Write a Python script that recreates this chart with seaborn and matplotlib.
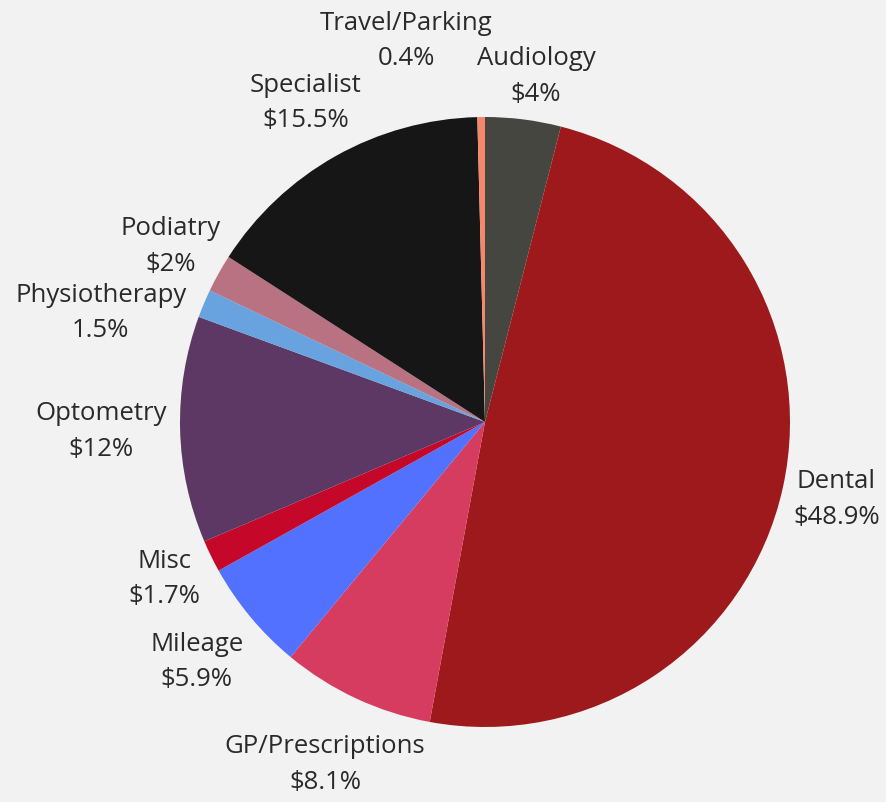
import numpy as np
import seaborn as sns
import matplotlib.pyplot as plt

# Data
categories = ["Audiology", "Dental", "GP/Prescriptions", "Mileage", "Misc",
              "Optometry", "Physiotherapy", "Podiatry", "Specialist", "Travel/Parking"]
shares = [4, 48.9, 8.1, 5.9, 1.7, 12, 1.5, 2, 15.5, 0.4]
value_labels = ["$4%", "$48.9%", "$8.1%", "$5.9%", "$1.7%",
                "$12%", "1.5%", "$2%", "$15.5%", "0.4%"]
colors = ["#464640", "#9e191b", "#d63c5f", "#5271ff", "#c5082a",
          "#5d3865", "#68a3df", "#b87282", "#161616", "#f7876b"]

# label distance from centre (fraction of radius) and angle nudge in degrees
label_r = [1.145, 1.18, 1.24, 1.23, 1.17, 1.26, 1.31, 1.18, 1.20, 1.275]
label_nudge = [-1.2, 0, 0, 0, 0, 0, 7, 0, 0, 11]

sns.set_theme(style="white")
plt.rcParams["font.family"] = ["Open Sans", "DejaVu Sans"]

fig = plt.figure(figsize=(8.86, 8.02), dpi=100, facecolor="#f2f2f2")
cx, cy, rad = 485, 422, 305
ax = fig.add_axes([(cx - rad) / 886, (802 - cy - rad) / 802, 2 * rad / 886, 2 * rad / 802])
ax.set_facecolor("#f2f2f2")

wedges, _ = ax.pie(shares, colors=colors, startangle=90, counterclock=False,
                   radius=1, wedgeprops=dict(linewidth=0))
ax.set_xlim(-1, 1)
ax.set_ylim(-1, 1)
ax.set_aspect("equal")
ax.axis("off")

for w, name, val, r, nudge in zip(wedges, categories, value_labels, label_r, label_nudge):
    ang = np.deg2rad((w.theta1 + w.theta2) / 2 + nudge)
    ax.text(r * np.cos(ang), r * np.sin(ang), name + "\n" + val,
            ha="center", va="center", fontsize=18.5, fontweight="normal",
            color="#2a2a2a", linespacing=1.55)

fig.savefig("out.png", dpi=100, facecolor=fig.get_facecolor())
